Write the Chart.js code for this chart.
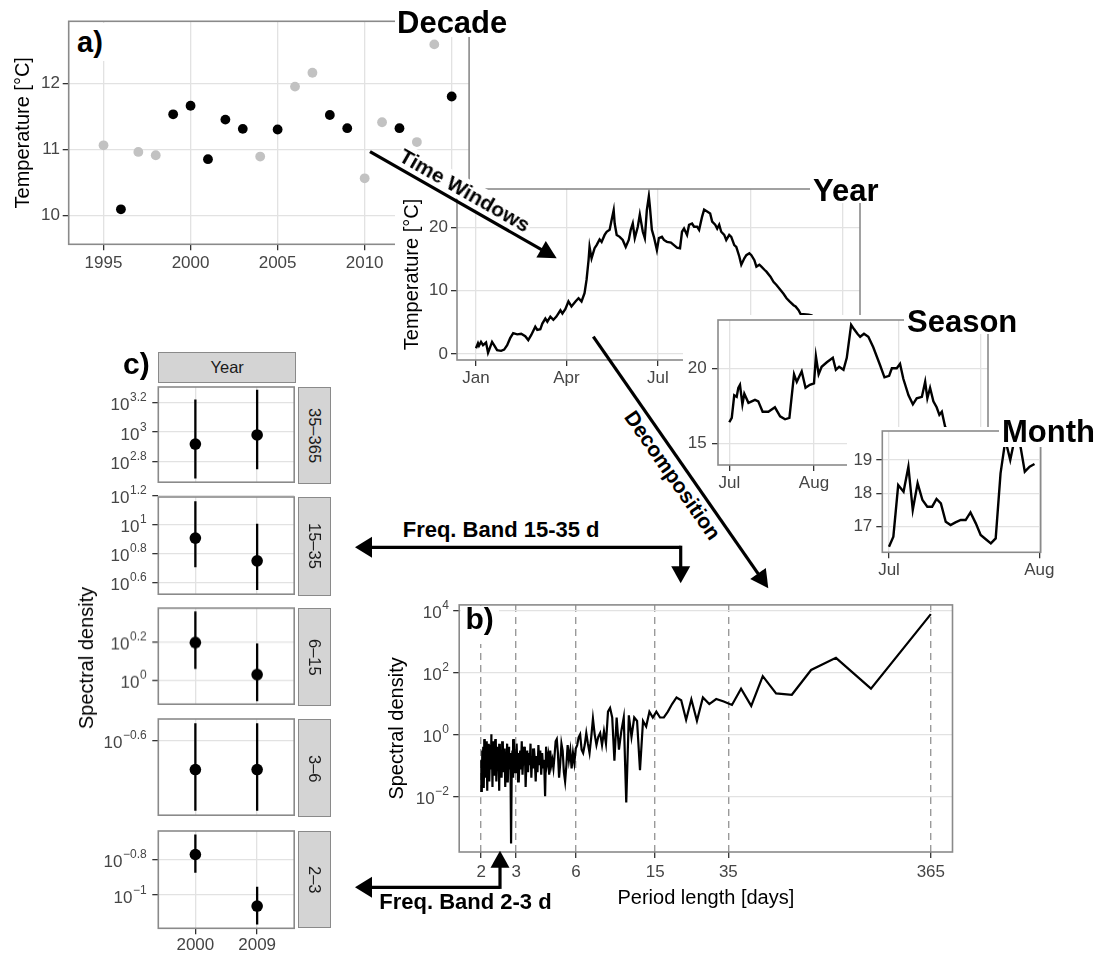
<!DOCTYPE html>
<html>
<head>
<meta charset="utf-8">
<script src="https://cdn.jsdelivr.net/npm/chart.js@4.4.1/dist/chart.umd.min.js"></script>
<style>
  body { margin: 0; background: #fff; }
  #fig { position: relative; width: 1099px; height: 956px; overflow: hidden;
         font-family: "Liberation Sans", Arial, Helvetica, sans-serif; }
  #fig canvas { position: absolute; background: #fff; }
  #fig canvas.clear { background: transparent; }
  .lab { position: absolute; white-space: nowrap; line-height: 1; color: #000; }
  .wbox { position: absolute; background: #fff; }
  .strip { position: absolute; box-sizing: border-box; background: #d4d4d4; border: 1.5px solid #8a8a8a;
           display: flex; align-items: center; justify-content: center; font-size: 16.5px; color: #1a1a1a; z-index: 2; }
  .strip.side span { writing-mode: vertical-rl; }
  svg { position: absolute; left: 0; top: 0; z-index: 10; }
</style>
</head>
<body>
<div id="fig"></div>
<script>
/* ---------- data ---------- */

// a) annual mean temperature, 1 = year used further on
const decadeYears = [1995, 1996, 1997, 1998, 1999, 2000, 2001, 2002, 2003, 2004, 2005,
                     2006, 2007, 2008, 2009, 2010, 2011, 2012, 2013, 2014, 2015];
const decadeTemp  = [11.06, 10.09, 10.96, 10.91, 11.53, 11.66, 10.85, 11.45, 11.31, 10.89, 11.30,
                     11.95, 12.16, 11.52, 11.32, 10.56, 11.41, 11.32, 11.11, 12.59, 11.80];
const decadeUsed  = [0, 1, 0, 0, 1, 1, 1, 1, 1, 0, 1, 0, 0, 1, 1, 0, 0, 1, 0, 0, 1];

// one year of daily temperature (day of year, °C)
const yearDay  = [0, 2, 3, 5, 7, 10, 12, 13, 16, 18, 21, 25, 28, 31, 34, 37, 41, 45, 49, 52, 55, 59, 61, 64,
                  66, 69, 71, 74, 77, 80, 84, 86, 89, 92, 95, 99, 102, 105, 108, 110, 112, 113, 115, 118,
                  120, 123, 125, 128, 130, 133, 135, 137, 138, 140, 143, 146, 149, 152, 154, 156, 158, 161,
                  163, 166, 168, 170, 172, 173, 175, 177, 180, 182, 185, 187, 190, 194, 197, 200, 203, 205,
                  207, 210, 212, 215, 217, 220, 222, 225, 227, 230, 233, 235, 238, 240, 242, 244, 247, 249,
                  252, 254, 257, 259, 262, 264, 267, 269, 272, 274, 277, 279, 282, 284, 287, 289, 293, 296,
                  299, 303, 306, 309, 312, 316, 318, 321, 323, 326, 331, 334, 340, 348, 356, 364];
const yearTemp = [0.9, 1.7, 1.3, 1.9, 1.4, 1.8, 0.2, 0.6, 1.9, 1.4, 0.6, 0.5, 0.7, 1.4, 2.5, 3.3, 3.1, 3.2, 2.8, 2.2,
                  3.0, 4.3, 3.8, 3.9, 4.8, 5.6, 5.1, 5.9, 5.4, 5.9, 6.9, 6.4, 7.1, 8.3, 7.5, 8.3, 8.8, 8.3, 9.6,
                  11.7, 14.8, 16.9, 15.1, 16.7, 17.2, 18.1, 17.7, 18.8, 19.3, 19.6, 21.2, 22.7, 20.6, 18.8, 18.5,
                  18.0, 16.9, 18.0, 19.6, 20.6, 18.3, 20.1, 22.0, 19.3, 18.3, 22.7, 24.9, 23.3, 19.6, 18.5, 16.4,
                  18.3, 18.5, 18.0, 17.7, 17.6, 17.2, 16.8, 16.7, 19.3, 19.8, 18.8, 20.4, 20.6, 20.1, 20.1, 19.6,
                  21.7, 22.8, 22.5, 22.2, 20.9, 20.4, 19.8, 20.4, 19.3, 18.8, 18.0, 18.8, 18.5, 17.2, 16.9, 15.4,
                  14.1, 15.1, 15.6, 15.9, 15.6, 14.8, 13.8, 14.1, 13.8, 13.3, 13.0, 12.2, 11.4, 10.9, 10.1, 9.5,
                  8.8, 8.3, 7.7, 7.5, 6.9, 6.3, 6.3, 6.2, 6.1, 5.5, 4.8, 4.0, 3.4];

// July to September (days after 1 July, °C)
const seasonDay  = [0, 0.9, 1.8, 2.7, 3.3, 3.9, 4.8, 5.5, 7, 9.4, 10.6, 12.2, 14.3, 16.7, 18.6, 20.4, 22,
                    23.7, 24.7, 26.5, 27.9, 29.5, 31, 31.7, 32.7, 33.8, 35.7, 37.9, 39, 40.2, 41.8, 43, 44.6,
                    45.7, 46.9, 47.9, 49.3, 50.9, 52.7, 55.2, 56.8, 58.5, 59.5, 61.3, 62.5, 63.7, 65.6, 67.2,
                    68.6, 70.5, 71.7, 72.5, 73.5, 74.7, 75.9, 76.9, 77.8, 79, 82, 85, 88, 91];
const seasonTemp = [16.4, 16.7, 18.2, 18.1, 18.7, 18.9, 17.6, 18.3, 17.7, 17.9, 17.8, 17.1, 17.1, 17.4, 16.8,
                    16.6, 16.7, 19.6, 19.1, 19.8, 18.7, 18.9, 19.0, 20.8, 19.6, 20.1, 20.4, 20.7, 19.9, 20.1,
                    19.9, 20.7, 22.9, 22.6, 22.3, 22.1, 22.3, 22.1, 21.4, 20.2, 19.4, 19.5, 20.0, 20.0, 20.3,
                    19.3, 18.2, 17.6, 18.0, 18.1, 19.1, 18.0, 18.7, 17.8, 17.4, 16.9, 17.1, 16.1, 15.5, 15.0,
                    14.3, 14.2];

// July (days after 1 July, °C)
const monthDay  = [0, 0.9, 1.9, 3, 4, 4.9, 5.9, 6.9, 7.9, 8.9, 9.8, 10.7, 11.7, 12.7, 13.7, 14.8, 15.8,
                   16.8, 17.9, 18.9, 19.9, 21, 22, 23, 24, 25, 26, 27, 28, 29, 30];
const monthTemp = [16.4, 16.7, 18.25, 18.05, 18.8, 17.5, 18.3, 17.8, 17.6, 17.6, 17.83, 17.7, 17.15, 17.05,
                   17.13, 17.2, 17.2, 17.43, 17.1, 16.75, 16.63, 16.5, 16.65, 18.6, 19.6, 19.0, 19.7, 19.5,
                   18.65, 18.8, 18.88];

// b) periodogram of the year, harmonic k = 1 .. 182
const specDensity = [
  7600, 30, 295, 120, 19, 21, 76, 8.3, 30, 8.9,
  11.5, 13.8, 9.5, 15.5, 2.75, 13.5, 2.95, 12.6, 15.5, 9.5,
  5.4, 3.5, 3.5, 5.4, 3.5, 5.4, 1.8, 2.7, 0.07, 2.7,
  3.5, 0.83, 4.1, 0.0063, 3.5, 1.26, 0.32, 3.5, 0.14, 3.5,
  7.1, 5.4, 0.5, 1.26, 0.45, 1.1, 0.83, 0.45, 1.0, 3.2,
  0.8, 0.25, 0.5, 1.1, 0.45, 0.25, 0.32, 1.0, 0.8, 0.45,
  0.35, 0.12, 0.25, 0.08, 0.3, 0.15, 0.45, 0.1, 0.03, 0.06,
  0.3, 0.5, 0.12, 0.04, 0.25, 0.7, 0.6, 0.2, 0.08, 0.15,
  0.1, 0.3, 0.05, 0.2, 0.12, 0.4, 0.01, 0.15, 0.08, 0.25,
  0.05, 0.3, 0.1, 0.45, 0.06, 0.2, 0.03, 0.15, 0.35, 0.08,
  0.2, 0.04, 0.5, 0.1, 0.25, 0.06, 0.3, 0.12, 0.02, 0.4,
  0.1, 0.2, 0.05, 0.6, 0.08, 0.3, 0.15, 0.03, 0.25, 0.1,
  0.5, 0.06, 0.2, 0.12, 0.7, 0.04, 0.3, 0.1, 0.0003, 0.25,
  0.08, 0.4, 0.15, 0.03, 0.5, 0.1, 0.25, 0.02, 0.35, 0.12,
  0.06, 0.6, 0.2, 0.04, 0.3, 0.1, 0.5, 0.015, 0.25, 0.08,
  0.4, 0.12, 0.03, 0.7, 0.15, 0.05, 0.35, 0.1, 0.6, 0.02,
  0.3, 1.0, 0.08, 0.45, 0.15, 0.03, 0.5, 0.1, 0.25, 0.015,
  0.6, 0.12, 0.35, 0.04, 0.7, 0.2, 0.02, 0.4, 0.1, 0.3,
  0.015, 0.15];
const specPeriod = specDensity.map((_, i) => 365 / (i + 1));
const bandEdges  = [2, 3, 6, 15, 35, 365];

// c) band-averaged spectral density, log10, for [2000, 2009]
const bandNames  = ['35–365', '15–35', '6–15', '3–6', '2–3'];
const bandYears  = ['2000', '2009'];
const bandMid    = [[2.918, 2.98], [0.907, 0.751], [0.195, 0.03], [-0.66, -0.66], [-0.772, -1.062]];
const bandLow    = [[2.683, 2.747], [0.707, 0.55], [0.059, -0.107], [-0.745, -0.745], [-0.875, -1.165]];
const bandHigh   = [[3.222, 3.289], [1.16, 1.005], [0.356, 0.191], [-0.565, -0.565], [-0.659, -0.953]];
const bandBreaks = [[2.8, 3, 3.2], [0.6, 0.8, 1, 1.2], [0, 0.2], [-0.6], [-1, -0.8]];
const bandBreakLabels = [['2.8', '3', '3.2'], ['0.6', '0.8', '1', '1.2'], ['0', '0.2'], ['−0.6'], ['−1', '−0.8']];
const bandLimits = [[2.658, 3.307], [0.522, 1.189], [-0.123, 0.373], [-0.754, -0.556], [-1.187, -0.64]];

/* ---------- look ---------- */
const TICK_TEXT = '#454545', TICK_MARK = '#333333', GRID = '#e2e2e2', FRAME = '#8a8a8a';
const FONT = '"Liberation Sans", Arial, Helvetica, sans-serif';
Chart.defaults.font.family = FONT;
Chart.defaults.color = TICK_TEXT;

const fig = document.getElementById('fig');

// grey frame round the plotting area
const panelBox = {
  id: 'panelBox',
  afterDatasetsDraw(chart) {
    const { ctx, chartArea: a } = chart;
    ctx.save();
    ctx.strokeStyle = FRAME;
    ctx.lineWidth = 1.6;
    ctx.strokeRect(a.left, a.top, a.right - a.left, a.bottom - a.top);
    ctx.restore();
  },
};

// "10^x" tick labels with a raised exponent
const powerTicks = {
  id: 'powerTicks',
  afterDraw(chart, args, opts) {
    if (!opts || !opts.labels) return;
    const sc = chart.scales.y, ctx = chart.ctx;
    const xr = chart.chartArea.left - (opts.gap || 11);
    ctx.save();
    ctx.fillStyle = TICK_TEXT;
    ctx.textAlign = 'right';
    ctx.textBaseline = 'alphabetic';
    sc.ticks.forEach((t, i) => {
      const y = sc.getPixelForValue(t.value);
      const ex = opts.labels[i];
      ctx.font = '12px ' + FONT;
      const w = ctx.measureText(ex).width;
      ctx.fillText(ex, xr, y - 1.5);
      ctx.font = '17px ' + FONT;
      ctx.fillText('10', xr - w - 0.5, y + 7.5);
    });
    ctx.restore();
  },
};

function pin(sc, key, v) {
  sc[key] = v;
  sc.paddingLeft = sc.paddingRight = sc.paddingTop = sc.paddingBottom = 0;
}

function scale(min, max, breaks, labels, o = {}) {
  return {
    type: o.log ? 'logarithmic' : 'linear',
    min, max,
    afterBuildTicks: sc => { sc.ticks = breaks.map(v => ({ value: v })); },
    ticks: {
      display: !o.hideLabels, autoSkip: false, maxRotation: 0, minRotation: 0,
      padding: o.pad ?? 3, color: TICK_TEXT, font: { size: 17 },
      callback: (v, i) => (labels ? labels[i] : ''),
    },
    grid: {
      color: o.gridColor || GRID, lineWidth: o.gridWidth || 1.3,
      drawTicks: !o.noTicks, tickLength: 6, tickColor: TICK_MARK, tickWidth: 1.3,
    },
    border: { display: false, dash: o.dash || [] },
    title: o.title
      ? { display: true, text: o.title, color: '#000', font: { size: 20 }, padding: o.titlePad }
      : { display: false },
  };
}

function panel(box, plot, z, datasets, x, y, power, clear) {
  const c = document.createElement('canvas');
  c.width = box.w;
  c.height = box.h;
  if (clear) c.className = 'clear';
  Object.assign(c.style, { left: box.x + 'px', top: box.y + 'px', zIndex: z,
                           width: box.w + 'px', height: box.h + 'px' });
  fig.appendChild(c);
  const yW = plot.l - box.x, xH = box.y + box.h - plot.b;
  x.afterFit = sc => pin(sc, 'height', xH);
  y.afterFit = sc => pin(sc, 'width', yW);
  return new Chart(c, {
    type: 'scatter',
    data: { datasets },
    options: {
      responsive: false, animation: false, events: [],
      layout: { padding: { left: 0, bottom: 0, top: plot.t - box.y, right: box.x + box.w - plot.r } },
      plugins: { legend: { display: false }, tooltip: { enabled: false }, powerTicks: power || {} },
      scales: { x, y },
    },
    plugins: [panelBox, powerTicks],
  });
}

const line = (xs, ys, w = 2.4) => ({
  data: xs.map((x, i) => ({ x, y: ys[i] })), showLine: true,
  borderColor: '#000', borderWidth: w, pointRadius: 0, tension: 0,
});
const dots = (pts, color, r) => ({ data: pts, backgroundColor: color, borderWidth: 0, pointRadius: r });

/* ---------- a) decade ---------- */
const pick = flag => decadeYears.map((x, i) => ({ x, y: decadeTemp[i], u: decadeUsed[i] }))
                                .filter(p => p.u === flag);
panel({ x: 0, y: 0, w: 474, h: 290 }, { l: 68.7, t: 21.3, r: 470.7, b: 244.3 }, 1,
  [dots(pick(0), '#c2c2c2', 4.9), dots(pick(1), '#000', 4.9)],
  scale(1993, 2016, [1995, 2000, 2005, 2010, 2015], ['1995', '2000', '2005', '2010', '2015'], { pad: 2.5 }),
  scale(9.56, 12.94, [10, 11, 12], ['10', '11', '12'],
        { pad: 2.7, title: 'Temperature [°C]', titlePad: { top: 11, bottom: 0 } }));

/* ---------- year ---------- */
panel({ x: 395, y: 187, w: 469, h: 205 }, { l: 457, t: 189, r: 860, b: 360 }, 3,
  [line(yearDay, yearTemp)],
  scale(-18.9, 382.1, [0, 90, 181, 273, 365], ['Jan', 'Apr', 'Jul', 'Oct', 'Jan'], { pad: 1.8 }),
  scale(-0.95, 26.05, [0, 10, 20], ['0', '10', '20'],
        { pad: 3, title: 'Temperature [°C]', titlePad: { top: 5.5, bottom: 0 } }));

/* ---------- season ---------- */
panel({ x: 683, y: 315, w: 307, h: 190 }, { l: 718, t: 320, r: 988, b: 465 }, 5,
  [line(seasonDay, seasonTemp)],
  scale(-4.14, 94.7, [0, 31, 62, 92], ['Jul', 'Aug', 'Sep', 'Oct'], { pad: 1.8 }),
  scale(13.553, 23.22, [15, 20], ['15', '20'], { pad: 5.3 }));

/* ---------- month ---------- */
panel({ x: 847, y: 427, w: 252, h: 163 }, { l: 882.3, t: 431, r: 1040.7, b: 552.3 }, 7,
  [line(monthDay, monthTemp)],
  scale(-1.38, 31.28, [0, 31], ['Jul', 'Aug'], { pad: 1.5 }),
  scale(16.232, 19.87, [17, 18, 19], ['17', '18', '19'], { pad: 4 }));

/* ---------- b) periodogram ---------- */
panel({ x: 378, y: 598, w: 577, h: 327 }, { l: 459.2, t: 604.9, r: 952.5, b: 852 }, 1,
  [line(specPeriod, specDensity, 2.2)],
  scale(1.552, 469, bandEdges, bandEdges.map(String),
        { log: true, pad: 4.3, gridColor: '#9a9a9a', gridWidth: 1.4, dash: [7, 5],
          title: 'Period length [days]', titlePad: { top: 0, bottom: 14.5 } }),
  scale(1.585e-4, 15136, [0.01, 1, 100, 10000], null,
        { log: true, title: 'Spectral density', titlePad: { top: 7, bottom: 0 } }),
  { labels: ['−2', '0', '2', '4'], gap: 10.4 });

/* ---------- c) band facets ---------- */
const facetTop = [386.7, 496.7, 608.3, 719.3, 830.7];
const facetBot = [484, 596, 706, 817.3, 928.3];
bandNames.forEach((name, i) => {
  const last = i === bandNames.length - 1;
  const bars = [0, 1].map(j => line([j + 1, j + 1], [bandLow[i][j], bandHigh[i][j]], 2.3));
  const mids = dots([0, 1].map(j => ({ x: j + 1, y: bandMid[i][j] })), '#000', 5.8);
  const top = facetTop[i] - 14, bottom = last ? 956 : facetBot[i] + 4;
  panel({ x: 60, y: top, w: 240, h: bottom - top }, { l: 158.3, t: facetTop[i], r: 296, b: facetBot[i] }, 1,
    [...bars, mids],
    scale(0.4, 2.6, [1, 2], last ? bandYears : null, { pad: 0.5, hideLabels: !last, noTicks: !last }),
    scale(bandLimits[i][0], bandLimits[i][1], bandBreaks[i], null),
    { labels: bandBreakLabels[i], gap: 11.6 }, true);

  const s = document.createElement('div');
  s.className = 'strip side';
  Object.assign(s.style, { left: '297.7px', top: facetTop[i] + 'px', width: '33.3px',
                           height: (facetBot[i] - facetTop[i]) + 'px' });
  s.innerHTML = '<span>' + name + '</span>';
  fig.appendChild(s);
});
const yearStrip = document.createElement('div');
yearStrip.className = 'strip';
Object.assign(yearStrip.style, { left: '158.3px', top: '351.7px', width: '137.7px', height: '31.6px' });
yearStrip.textContent = 'Year';
fig.appendChild(yearStrip);

/* ---------- labels ---------- */
function box(l, t, r, b, z) {
  const d = document.createElement('div');
  d.className = 'wbox';
  Object.assign(d.style, { left: l + 'px', top: t + 'px', width: (r - l) + 'px', height: (b - t) + 'px', zIndex: z });
  fig.appendChild(d);
}
function text(txt, x, baseline, size, z, bold = true) {
  const d = document.createElement('div');
  d.className = 'lab';
  d.textContent = txt;
  Object.assign(d.style, { left: x + 'px', top: (baseline - 0.8465 * size) + 'px', fontSize: size + 'px',
                           fontWeight: bold ? 'bold' : 'normal', zIndex: z });
  fig.appendChild(d);
}
function turned(txt, cx, cy, size, deg, z, o = {}) {
  const d = document.createElement('div');
  d.className = 'lab';
  d.textContent = txt;
  Object.assign(d.style, { left: cx + 'px', top: cy + 'px', fontSize: size + 'px', zIndex: z,
                           fontWeight: o.bold ? 'bold' : 'normal',
                           background: o.bg ? '#fff' : 'transparent', padding: o.bg ? '1px 2px' : '0',
                           transform: `translate(-50%, -50%) rotate(${deg}deg)` });
  fig.appendChild(d);
}

box(70, 23, 107, 61, 2);      text('a)', 77, 53, 29, 2);
box(395, 0, 510, 37, 2);      text('Decade', 397, 33.3, 31, 2);
box(810, 168, 884, 203, 4);   text('Year', 813, 201.7, 31, 4);
box(904, 300, 1024, 334, 6);  text('Season', 907, 332.3, 31, 6);
box(999, 412, 1099, 447, 8);  text('Month', 1002, 442.7, 31, 8);
box(461, 606, 499, 644, 2);   text('b)', 465.5, 629, 30, 2);
text('c)', 123, 374, 30, 2);
text('Freq. Band 15-35 d', 402.7, 538, 22, 9);
text('Freq. Band 2-3 d', 379.3, 910, 22, 9);
turned('Time Windows', 465, 190, 21, 29.7, 9, { bold: true, bg: true });
turned('Decomposition', 672.5, 475, 21, 55.2, 9, { bold: true, bg: true });
turned('Spectral density', 86, 657.5, 20, -90, 2);

/* ---------- arrows ---------- */
const NS = 'http://www.w3.org/2000/svg';
const svg = document.createElementNS(NS, 'svg');
svg.setAttribute('width', 1099);
svg.setAttribute('height', 956);
fig.appendChild(svg);

function el(name, attrs) {
  const e = document.createElementNS(NS, name);
  Object.entries(attrs).forEach(([k, v]) => e.setAttribute(k, v));
  svg.appendChild(e);
}
// path through pts, arrow head on the last point
function arrow(pts, len = 18, half = 9.5) {
  const [tx, ty] = pts[pts.length - 1], [px, py] = pts[pts.length - 2];
  const d = Math.hypot(tx - px, ty - py), ux = (tx - px) / d, uy = (ty - py) / d;
  const bx = tx - ux * len, by = ty - uy * len;
  const body = pts.slice(0, -1).concat([[bx + ux, by + uy]]);
  el('polyline', { points: body.map(p => p.join(',')).join(' '), fill: 'none', stroke: '#000',
                   'stroke-width': 3.2, 'stroke-linejoin': 'miter' });
  el('polygon', { points: [[tx, ty], [bx - uy * half, by + ux * half], [bx + uy * half, by - ux * half]]
                   .map(p => p.join(',')).join(' '), fill: '#000' });
}
function headOnly(tip, from, len = 18, half = 9.5) {
  const d = Math.hypot(tip[0] - from[0], tip[1] - from[1]);
  const ux = (tip[0] - from[0]) / d, uy = (tip[1] - from[1]) / d;
  const bx = tip[0] - ux * len, by = tip[1] - uy * len;
  el('polygon', { points: [tip, [bx - uy * half, by + ux * half], [bx + uy * half, by - ux * half]]
                   .map(p => p.join(',')).join(' '), fill: '#000' });
}

arrow([[370, 151.7], [556.7, 258.3]]);
arrow([[593.3, 336.7], [768.3, 588.3]]);
arrow([[680.7, 547.3], [355, 547.3]], 17, 10.5);
headOnly([680.7, 583.3], [680.7, 547.3], 17, 9.5);
el('line', { x1: 680.7, y1: 545.7, x2: 680.7, y2: 567.5, stroke: '#000', 'stroke-width': 3.2 });
arrow([[500, 887.3], [355, 887.3]], 17, 10.5);
headOnly([500, 850.7], [500, 887.3], 17, 9.5);
el('line', { x1: 500, y1: 888.9, x2: 500, y2: 866.5, stroke: '#000', 'stroke-width': 3.2 });
</script>
</body>
</html>
